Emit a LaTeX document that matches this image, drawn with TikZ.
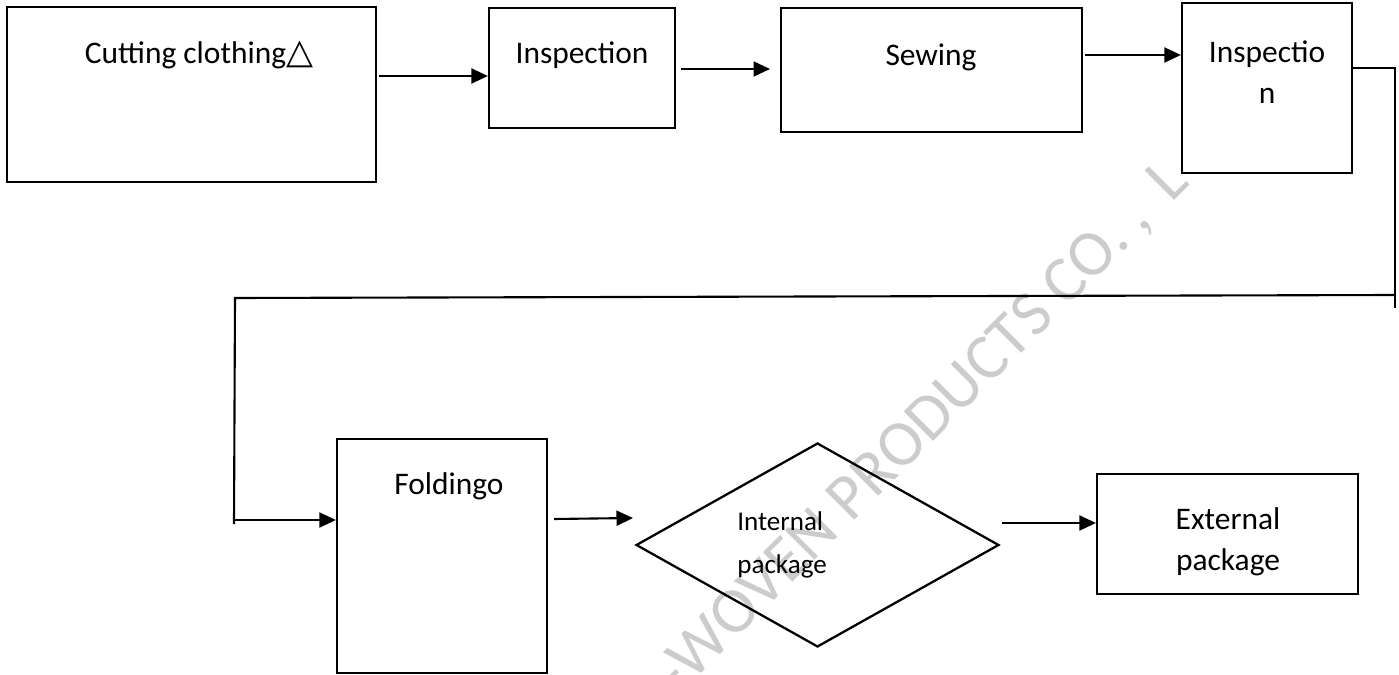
\documentclass[tikz,border=0pt]{standalone}
\usepackage{fontspec}
\setmainfont{Carlito}
\newfontfamily\symfont{DejaVu Sans}
\usetikzlibrary{arrows.meta,shapes.geometric}

\begin{document}
\begin{tikzpicture}[x=0.02cm, y=-0.02cm,
		box/.style={draw, line width=1.3pt, inner sep=0},
		txt/.style={font=\fontsize{17.9}{23.3}\selectfont, align=center, inner sep=0},
		smalltxt/.style={font=\fontsize{15.4}{24.5}\selectfont, align=left, inner sep=0},
		wmark/.style={rotate=45, text=black!20, inner sep=0, font=\fontsize{37}{37}\selectfont},
		arr/.style={-{Triangle[length=0.33cm,width=0.3cm]}, line width=1.2pt},
		line/.style={line width=1.2pt}]
		\useasboundingbox (0,0) rectangle (1399,675);
		\node[wmark] (mark) at (913,438) {L-WOVEN PRODUCTS CO.\hspace{0.2em},\hspace{0.4em}L};
		\node[box, minimum width=7.38cm, minimum height=3.5cm] (cut) at (191.5,94.5) {};
		\node[box, minimum width=3.72cm, minimum height=2.4cm] (insp1) at (582,68) {};
		\node[box, minimum width=6.02cm, minimum height=2.48cm] (sew) at (931.5,70) {};
		\node[box, minimum width=3.4cm, minimum height=3.4cm] (insp2) at (1267,88) {};
		\node[box, minimum width=4.2cm, minimum height=4.68cm] (fold) at (442,556) {};
		\node[box, diamond, minimum width=7.26cm, minimum height=4.08cm] (pack1) at (817.5,545) {};
		\node[box, minimum width=5.22cm, minimum height=2.4cm] (pack2) at (1227.5,534) {};
		\node[txt] (cuttxt) at (199,55) {Cutting clothing{\symfont\fontsize{20}{23.3}\selectfont △}};
		\node[txt] (insp1txt) at (582,55) {Inspection};
		\node[txt] (sewtxt) at (931,57) {Sewing};
		\node[txt] (insp2txt) at (1267,72.5) {Inspectio\\n};
		\node[txt] (foldtxt) at (449,486) {Foldingo};
		\node[smalltxt, anchor=west] (pack1txt) at (737,544.5) {Internal\\package};
		\node[txt] (pack2txt) at (1228,541.5) {External\\package};
		\coordinate (s1) at (379,76);
		\coordinate (s2) at (681,69);
		\coordinate (e2) at (770,69);
		\coordinate (s3) at (1085,55);
		\coordinate (rtop) at (1395,68);
		\coordinate (rbot) at (1395,308);
		\coordinate (rmid) at (1395,295);
		\coordinate (lturn) at (235,298);
		\coordinate (lbot) at (234,524);
		\coordinate (s4) at (233,520);
		\coordinate (s5) at (554,519);
		\coordinate (e5) at (633,518);
		\coordinate (s6) at (1002,523);
		\draw[arr] (s1) -- (insp1.west |- s1);
		\draw[arr] (s2) -- (e2);
		\draw[arr] (s3) -- (insp2.west |- s3);
		\draw[line] (insp2.east |- rtop) -- (rtop) -- (rbot);
		\draw[line] (rmid) -- (lturn) -- (lbot);
		\draw[arr] (s4) -- (fold.west |- s4);
		\draw[arr] (s5) -- (e5);
		\draw[arr] (s6) -- (pack2.west |- s6);
	\end{tikzpicture}
\end{document}
